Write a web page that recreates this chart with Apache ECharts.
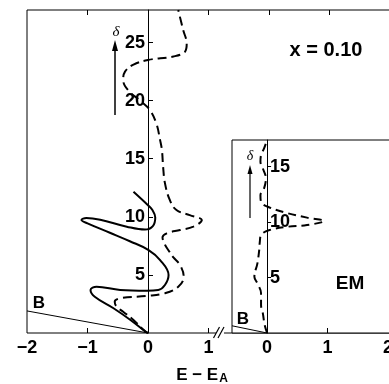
<!DOCTYPE html>
<html lang="en">
  <head>
    <meta charset="UTF-8" />
    <script src="https://cdn.jsdelivr.net/npm/echarts@6/dist/echarts.min.js"></script>
    <title>x = 0.10</title>
    <style>
      html, body { margin: 0; padding: 0; background: #fff; }
      #app { width: 389px; height: 384px; }
    </style>
  </head>
  <body>
    <div id="app"></div>
    <script>
      // main panel: solid and dashed curves, [E-E_A, delta]
      const solidMain = [
        [0, 0], [-0.04, 0.11], [-0.29, 1.12], [-0.57, 2.13], [-0.88, 3.12], [-0.95, 3.7],
        [-0.85, 3.98], [-0.46, 3.7], [-0.02, 3.64], [0.17, 3.7], [0.28, 4.13], [0.34, 4.99],
        [0.2, 6.28], [0.01, 7.14], [-0.3, 7.9], [-0.63, 8.63], [-1.0, 9.44], [-1.1, 9.72],
        [-1.02, 9.9], [-0.79, 9.75], [-0.35, 9.15], [-0.05, 8.9], [0.08, 9.2], [0.12, 9.95],
        [0.07, 10.6], [0, 11.0], [-0.24, 12.16]
      ];
      const dashedMain = [
        [0, 0], [-0.07, 0.26], [-0.24, 1.12], [-0.41, 1.83], [-0.52, 2.27], [-0.55, 2.7],
        [-0.46, 2.99], [-0.02, 3.19], [0.28, 3.42], [0.5, 3.98], [0.59, 4.85], [0.53, 5.85],
        [0.42, 6.5], [0.34, 7.1], [0.28, 7.6], [0.24, 8.24], [0.31, 8.58], [0.53, 8.86],
        [0.75, 9.15], [0.89, 9.72], [0.69, 10.15], [0.47, 10.58], [0.36, 11.45], [0.28, 12.9],
        [0.25, 14.3], [0.23, 15.75], [0.2, 16.6], [0.14, 18.0], [0.03, 19.2], [-0.13, 20.0],
        [-0.33, 20.9], [-0.41, 21.8], [-0.38, 22.5], [-0.24, 23.1], [0, 23.5], [0.42, 23.8],
        [0.61, 24.2], [0.64, 24.9], [0.58, 26.1], [0.5, 27.8]
      ];
      const bMain = [[-2, 1.9], [0, 0]];

      // inset (EM)
      const dashedInset = [
        [0, 0], [-0.04, 0.72], [-0.07, 1.77], [-0.1, 2.52], [-0.1, 3.58], [-0.16, 4.48],
        [-0.21, 5.07], [-0.16, 6.28], [-0.13, 7.48], [-0.12, 8.23], [-0.1, 8.83], [0.04, 9.28],
        [0.34, 9.58], [0.66, 9.73], [0.94, 10.1], [0.66, 10.4], [0.34, 10.8], [0.01, 11.38],
        [-0.1, 11.83], [-0.11, 12.43], [-0.05, 13.04], [-0.02, 13.94], [-0.07, 14.84],
        [-0.11, 15.43], [-0.1, 16.04], [-0.05, 16.64], [0, 17.4]
      ];
      const bInset = [[-0.58, 0.65], [0, 0]];

      // tick labels
      const mainXLabels = [-2, -1, 0, 1];
      const mainXTicks = [-1, 1];
      const mainTopTicks = [-1, 1, 2, 3];
      const mainYLabels = [5, 10, 15, 20, 25];
      const insetXLabels = [0, 1, 2];
      const insetXTicks = [1];
      const insetYLabels = [5, 10, 15];

      // px per unit along E-E_A, same for both panels
      const PX = 60.5;
      const mainX = { min: -2, max: 4.05 };
      const insetX = { min: -0.58, max: 2.027 };

      const FONT = "Liberation Sans";
      const lbl = {
        color: "#000",
        fontFamily: FONT,
        fontWeight: "bold",
        fontSize: 18,
        formatter: (v) => String(v).replace("-", "\u2212"),
      };
      const tick = { lineStyle: { color: "#000", width: 1 } };

      const echart = echarts.init(document.getElementById("app"));

      echart.setOption({
        animation: false,
        backgroundColor: "#fff",
        grid: [
          {
            left: 27, top: 10, width: (mainX.max - mainX.min) * PX, height: 323,
            outerBoundsMode: "none", containLabel: false,
            show: true, borderColor: "#000", borderWidth: 1, backgroundColor: "transparent",
          },
          {
            left: 232, top: 140, width: (insetX.max - insetX.min) * PX, height: 193,
            outerBoundsMode: "none", containLabel: false,
            show: true, borderColor: "#000", borderWidth: 1, backgroundColor: "#fff",
          },
        ],
        xAxis: [
          {
            gridIndex: 0, type: "value", min: mainX.min, max: mainX.max, position: "bottom",
            axisLine: { show: false, onZero: false },
            splitLine: { show: false },
            axisTick: Object.assign({ inside: true, length: 5, customValues: mainXTicks }, tick),
            axisLabel: Object.assign({ customValues: mainXLabels, margin: 6 }, lbl),
          },
          {
            gridIndex: 0, type: "value", min: mainX.min, max: mainX.max, position: "top",
            axisLine: { show: false, onZero: false },
            splitLine: { show: false },
            axisTick: Object.assign({ inside: true, length: 5, customValues: mainTopTicks }, tick),
            axisLabel: { show: false },
          },
          {
            gridIndex: 1, type: "value", min: insetX.min, max: insetX.max, position: "bottom",
            axisLine: { show: false, onZero: false },
            splitLine: { show: false },
            axisTick: Object.assign({ inside: true, length: 5, customValues: insetXTicks }, tick),
            axisLabel: Object.assign({ customValues: insetXLabels, margin: 6 }, lbl),
          },
        ],
        yAxis: [
          {
            // sits at E-E_A = 0, labels on its left
            gridIndex: 0, type: "value", min: 0, max: 27.8, position: "left",
            offset: mainX.min * PX,
            axisLine: { show: true, onZero: false, lineStyle: { color: "#000", width: 1 } },
            splitLine: { show: false },
            axisTick: Object.assign({ inside: true, length: 5, customValues: mainYLabels }, tick),
            axisLabel: Object.assign({ customValues: mainYLabels, margin: 3 }, lbl),
          },
          {
            // inset axis at 0, labels on its right
            gridIndex: 1, type: "value", min: 0, max: 17.4, position: "right",
            offset: -insetX.max * PX,
            axisLine: { show: true, onZero: false, lineStyle: { color: "#000", width: 1 } },
            splitLine: { show: false },
            axisTick: Object.assign({ length: 4, customValues: insetYLabels }, tick),
            axisLabel: Object.assign({ customValues: insetYLabels, margin: 3 }, lbl),
          },
        ],
        series: [
          {
            name: "solid", type: "line", xAxisIndex: 0, yAxisIndex: 0, data: solidMain,
            smooth: 0.4, symbol: "none", lineStyle: { color: "#000", width: 2 },
          },
          {
            name: "dashed", type: "line", xAxisIndex: 0, yAxisIndex: 0, data: dashedMain,
            smooth: 0.4, symbol: "none", lineStyle: { color: "#000", width: 2, type: [9, 5] },
          },
          {
            name: "B", type: "line", xAxisIndex: 0, yAxisIndex: 0, data: bMain,
            symbol: "none", lineStyle: { color: "#000", width: 1 },
          },
          {
            name: "EM", type: "line", xAxisIndex: 2, yAxisIndex: 1, data: dashedInset,
            smooth: 0.4, symbol: "none", lineStyle: { color: "#000", width: 2, type: [8, 5] },
          },
          {
            name: "B inset", type: "line", xAxisIndex: 2, yAxisIndex: 1, data: bInset,
            symbol: "none", lineStyle: { color: "#000", width: 1 },
          },
        ],
        graphic: [
          // axis break //
          { type: "rect", z: 100, shape: { x: 216, y: 330, width: 8, height: 6 }, style: { fill: "#fff" } },
          { type: "line", z: 101, shape: { x1: 213.5, y1: 338, x2: 219.5, y2: 327 }, style: { stroke: "#000", lineWidth: 1.2 } },
          { type: "line", z: 101, shape: { x1: 218, y1: 338, x2: 224, y2: 327 }, style: { stroke: "#000", lineWidth: 1.2 } },
          // delta arrows
          { type: "line", z: 100, shape: { x1: 115, y1: 115, x2: 115, y2: 48 }, style: { stroke: "#000", lineWidth: 1.5 } },
          { type: "polygon", z: 100, shape: { points: [[115, 40], [112, 51], [118, 51]] }, style: { fill: "#000" } },
          { type: "line", z: 100, shape: { x1: 250, y1: 218, x2: 250, y2: 172 }, style: { stroke: "#000", lineWidth: 1.2 } },
          { type: "polygon", z: 100, shape: { points: [[250, 165], [247.5, 174], [252.5, 174]] }, style: { fill: "#000" } },
          { type: "text", z: 100, style: { text: "\u03b4", x: 116, y: 32, textAlign: "center", textVerticalAlign: "middle", fill: "#000", font: "italic 15px 'Liberation Serif'" } },
          { type: "text", z: 100, style: { text: "\u03b4", x: 250, y: 156, textAlign: "center", textVerticalAlign: "middle", fill: "#000", font: "italic 14px 'Liberation Serif'" } },
          // labels
          { type: "text", z: 100, style: { text: "x = 0.10", x: 326, y: 50, textAlign: "center", textVerticalAlign: "middle", fill: "#000", font: "bold 20px 'Liberation Sans'" } },
          { type: "text", z: 100, style: { text: "B", x: 39, y: 303, textAlign: "center", textVerticalAlign: "middle", fill: "#000", font: "bold 17px 'Liberation Sans'" } },
          { type: "text", z: 100, style: { text: "B", x: 243, y: 319, textAlign: "center", textVerticalAlign: "middle", fill: "#000", font: "bold 17px 'Liberation Sans'" } },
          { type: "text", z: 100, style: { text: "EM", x: 350, y: 284, textAlign: "center", textVerticalAlign: "middle", fill: "#000", font: "bold 19px 'Liberation Sans'" } },
          {
            type: "text", z: 100,
            style: {
              text: "{m|E \u2212 E}{s|A}", x: 202, y: 375, textAlign: "center", textVerticalAlign: "middle",
              rich: {
                m: { fontFamily: FONT, fontWeight: "bold", fontSize: 17, fill: "#000" },
                s: { fontFamily: FONT, fontWeight: "bold", fontSize: 12, fill: "#000", padding: [8, 0, 0, 1] },
              },
            },
          },
        ],
      });
    </script>
  </body>
</html>
